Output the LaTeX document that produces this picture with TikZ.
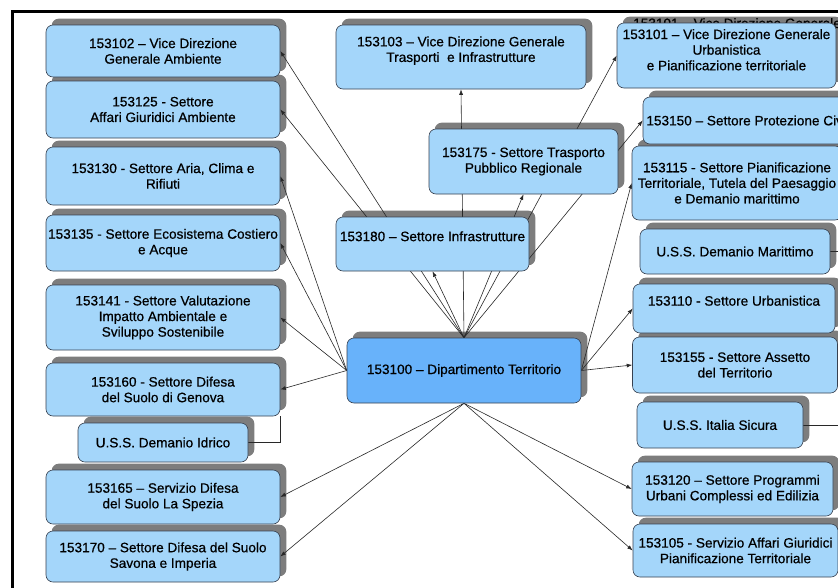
\documentclass[tikz,border=0pt]{standalone}
\usepackage{fontspec}
\setmainfont{Liberation Sans}
\newfontfamily\boxfont{Liberation Sans}[FakeBold=0.6]
\usetikzlibrary{arrows.meta,backgrounds}

\definecolor{boxfill}{RGB}{164,214,250}
\definecolor{mainfill}{RGB}{104,178,250}
\definecolor{boxline}{RGB}{55,65,80}
\definecolor{shadowgray}{RGB}{125,125,125}
\definecolor{linkline}{RGB}{40,40,40}

\pgfdeclarelayer{shadowlayer}
\pgfdeclarelayer{links}
\pgfsetlayers{shadowlayer,links,main}

\tikzset{
  ufficio/.style={draw=boxline, fill=boxfill, rounded corners=7pt, line width=0.6pt,
    align=center, inner xsep=1pt, inner ysep=2pt, text=black,
    font=\boxfont\fontsize{13.6}{15.6}\selectfont},
  wh/.style 2 args={minimum width=#1pt, minimum height=#2pt},
  link/.style={-{Latex[length=5.5pt,width=4pt]}, draw=linkline, line width=0.6pt},
  plain/.style={draw=linkline, line width=0.6pt}
}

\begin{document}
\begin{tikzpicture}[x=1pt,y=-1pt]
  \useasboundingbox (0,0) rectangle (838,587);
  \clip (0,0) rectangle (838,587);
  \draw[line width=3pt] (12.5,11.3) rectangle (860,610);
  \coordinate (rim) at (850,0);

  % left column
  \node[ufficio, wh={234}{52}] (c102) at (163,51) {153102 – Vice Direzione\\Generale Ambiente};
  \node[ufficio, wh={234}{57}] (c125) at (163,109.5) {153125 - Settore\\Affari Giuridici Ambiente};
  \node[ufficio, wh={234}{58}] (c130) at (163,176) {153130 - Settore Aria, Clima e\\Rifiuti};
  \node[ufficio, wh={234}{56}] (c135) at (163,243) {153135 - Settore Ecosistema Costiero\\e Acque};
  \node[ufficio, wh={234}{65}] (c141) at (163,317.5) {153141 - Settore Valutazione\\Impatto Ambientale e\\Sviluppo Sostenibile};
  \node[ufficio, wh={234}{53}] (c160) at (163,389.5) {153160 - Settore Difesa\\del Suolo di Genova};
  \node[ufficio, wh={170}{39}] (idr) at (163,442.5) {U.S.S. Demanio Idrico};
  \node[ufficio, wh={234}{54}] (c165) at (163,497) {153165 – Servizio Difesa\\del Suolo La Spezia};
  \node[ufficio, wh={234}{51}] (c170) at (163,556.5) {153170 – Settore Difesa del Suolo\\Savona e Imperia};

  % middle
  \node[ufficio, wh={250}{64}] (c103) at (461,57) {153103 – Vice Direzione Generale\\Trasporti\ \ e Infrastrutture\\~};
  \node[ufficio, wh={189}{65}] (c175) at (523.5,161.5) {153175 - Settore Trasporto\\Pubblico Regionale};
  \node[ufficio, wh={193}{54}] (c180) at (432.5,244) {153180 – Settore Infrastrutture\\~};
  \node[ufficio, fill=mainfill, wh={234}{65}] (c100) at (464,370.5) {153100 – Dipartimento Territorio};

  % right column
  \node[ufficio, wh={219}{65}] (c101) at (726.5,55.5) {153101 – Vice Direzione Generale\\Urbanistica\\e Pianificazione territoriale\\[-4pt]~};
  \node[ufficio, wh={217}{47}, align=left] (c150) at (751.5,120.5) {\mbox{153150 – Settore Protezione Civile}};
  \node[ufficio, wh={210}{74}] (c115) at (737,183) {153115 - Settore Pianificazione\\Territoriale, Tutela del Paesaggio\\e Demanio marittimo};
  \node[ufficio, wh={190}{45}] (dm) at (735,251.5) {U.S.S. Demanio Marittimo};
  \node[ufficio, wh={202}{49}] (c110) at (734,308.5) {153110 - Settore Urbanistica\\~};
  \node[ufficio, wh={205}{56}] (c155) at (735,365) {153155 - Settore Assetto\\del Territorio};
  \node[ufficio, wh={166}{46}] (is) at (720,425) {U.S.S. Italia Sicura};
  \node[ufficio, wh={201}{54}] (c120) at (732.5,489) {153120 – Settore Programmi\\Urbani Complessi ed Edilizia};
  \node[ufficio, wh={205}{53}] (c105) at (735.5,550.5) {153105 - Servizio Affari Giuridici\\Pianificazione Territoriale};

  % shadows
  \begin{pgfonlayer}{shadowlayer}
    \fill[white] (0,0) rectangle (838,587);
    \foreach \n in {c102,c125,c130,c135,c141,c160,idr,c165,c170,
                    c103,c175,c180,c100,c101,c150,c115,dm,c110,c155,is,c120,c105}
      \fill[shadowgray, rounded corners=7pt]
        ([shift={(6,-6)}]\n.south west) rectangle ([shift={(6,-6)}]\n.north east);
  \end{pgfonlayer}

  % links
  \begin{pgfonlayer}{links}
    \node[anchor=base west, inner sep=0pt, text=black, font=\boxfont\fontsize{13.6}{15.6}\selectfont]
      (c101gh) at (633,28) {153101 – Vice Direzione Generale};
    \foreach \t in {c102,c125}
      \draw[link] (c100.north) -- (\t.east);
    \foreach \t in {c180,c103,c175}
      \draw[link] (c100.north) -- (\t.south);
    \foreach \t in {c101,c150}
      \draw[link] (c100.north) -- (\t.west);
    \foreach \t in {c130,c135,c141,c160}
      \draw[link] (c100.west) -- (\t.east);
    \foreach \t in {c115,c110,c155}
      \draw[link] (c100.east) -- (\t.west);
    \foreach \t in {c165,c170}
      \draw[link] (c100.south) -- (\t.east);
    \foreach \t in {c120,c105}
      \draw[link] (c100.south) -- (\t.west);
    \draw[plain] (idr.east) -| (c160.south east);
    \draw[plain] (dm.east) -- (dm.east -| rim);
    \draw[plain] (is.east) -- (is.east -| rim);
  \end{pgfonlayer}
\end{tikzpicture}
\end{document}
